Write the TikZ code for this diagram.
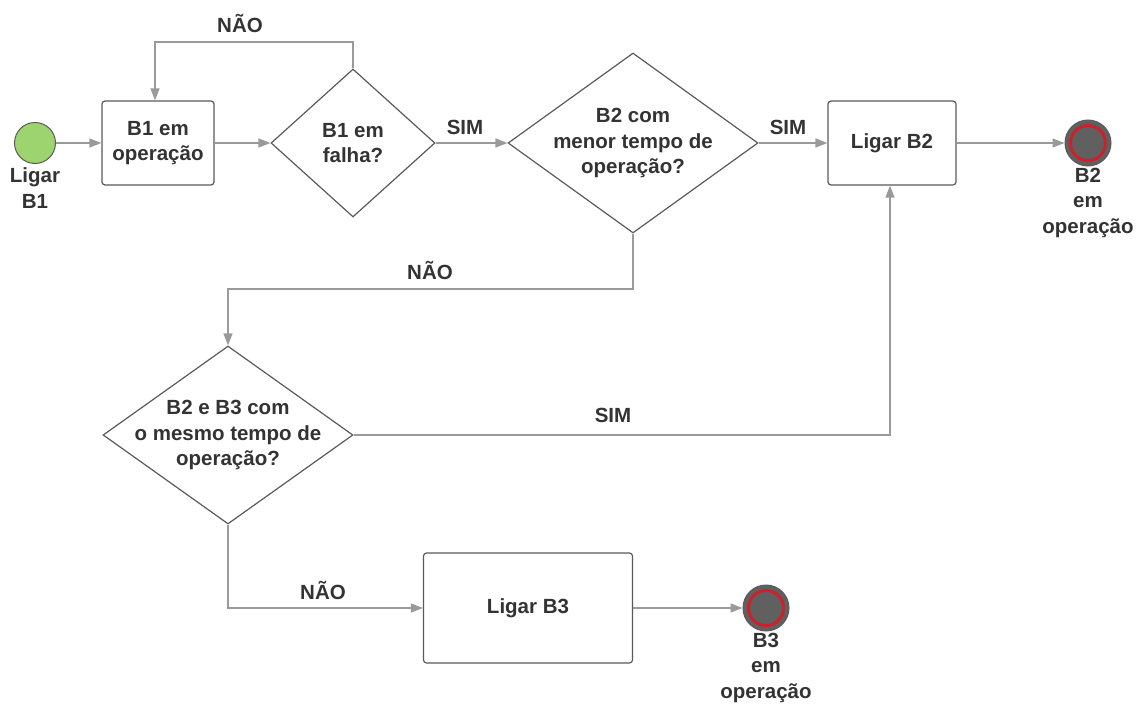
\documentclass[tikz,border=0pt]{standalone}
\usepackage{fontspec}
\setmainfont{Liberation Sans}
\usetikzlibrary{shapes.geometric,arrows.meta}
\definecolor{txt}{HTML}{333333}
\definecolor{ln}{HTML}{9A9A9A}
\definecolor{bd}{HTML}{5A5A5A}
\definecolor{grn}{HTML}{9ED470}
\definecolor{endfill}{HTML}{606060}
\definecolor{endred}{HTML}{C8232C}
\tikzset{
  lbl/.style={text=txt,font=\bfseries\fontsize{20.5}{25.5}\selectfont,align=center,inner sep=0pt},
  box/.style={draw=bd,line width=1.2pt,rounded corners=3pt,fill=white,inner sep=0pt},
  dia/.style={draw=bd,line width=1.2pt,diamond,fill=white,inner sep=0pt},
  conn/.style={draw=ln,line width=1.3pt,-{Triangle[length=12pt,width=9pt]}},
  startc/.style={circle,draw=bd,line width=1pt,fill=grn,inner sep=0pt,minimum size=41pt},
  endc/.style={circle,draw=bd,line width=1pt,fill=endfill,inner sep=0pt,minimum size=46pt},
}
\begin{document}
\begin{tikzpicture}[x=1pt,y=-1pt]
\useasboundingbox (0,0) rectangle (1144,704);
% shapes
\node[startc] (s) at (35,143) {};
\node[lbl,anchor=north] (sl) at (35,167.5) {Ligar\\B1};
\node[box,minimum width=112pt,minimum height=84pt] (b1) at (158,143) {};
\node[lbl] (b1t) at (b1) {B1 em\\operação};
\node[dia,minimum width=164pt,minimum height=148pt] (d1) at (353,143) {};
\node[lbl] (d1t) at (d1) {B1 em\\falha?};
\node[dia,minimum width=250pt,minimum height=180pt] (d2) at (633,143) {};
\node[lbl] (d2t) at (d2) {B2 com\\menor tempo de\\operação?};
\node[box,minimum width=128pt,minimum height=84pt] (b2) at (892,143) {};
\node[lbl] (b2t) at (b2) {Ligar B2};
\node[endc] (e1) at (1088,143) {};
\draw[endred,line width=3pt] (e1) circle (17.5pt);
\node[lbl,anchor=north] (e1l) at (1088,167.5) {B2\\em\\operação};
\node[dia,minimum width=250pt,minimum height=178pt] (d3) at (228,435) {};
\node[lbl] (d3t) at (d3) {B2 e B3 com\\o mesmo tempo de\\operação?};
\node[box,minimum width=209pt,minimum height=110pt] (b3) at (528,608) {};
\node[lbl] (b3t) at (b3) {Ligar B3};
\node[endc] (e2) at (766,608) {};
\draw[endred,line width=3pt] (e2) circle (17.5pt);
\node[lbl,anchor=north] (e2l) at (766,632.5) {B3\\em\\operação};
% connectors
\draw[conn] (s) -- (b1);
\draw[conn] (b1) -- (d1);
\draw[conn] (d1.north) -- (353,42) -| ([xshift=-3pt]b1.north);
\draw[conn] (d1) -- (d2);
\draw[conn] (d2) -- (b2);
\draw[conn] (b2) -- (e1);
\draw[conn] (d2.south) -- (633,289) -| (d3.north);
\draw[conn] (d3.east) -| ([xshift=-2pt]b2.south);
\draw[conn] (d3.south) |- (b3.west);
\draw[conn] (b3) -- (e2);
% labels
\node[lbl] (n1) at (240,23) {NÃO};
\node[lbl] (y1) at (465,127) {SIM};
\node[lbl] (y2) at (788,127) {SIM};
\node[lbl] (n2) at (430,270) {NÃO};
\node[lbl] (y3) at (613,415) {SIM};
\node[lbl] (n3) at (323,590) {NÃO};
\end{tikzpicture}
\end{document}
